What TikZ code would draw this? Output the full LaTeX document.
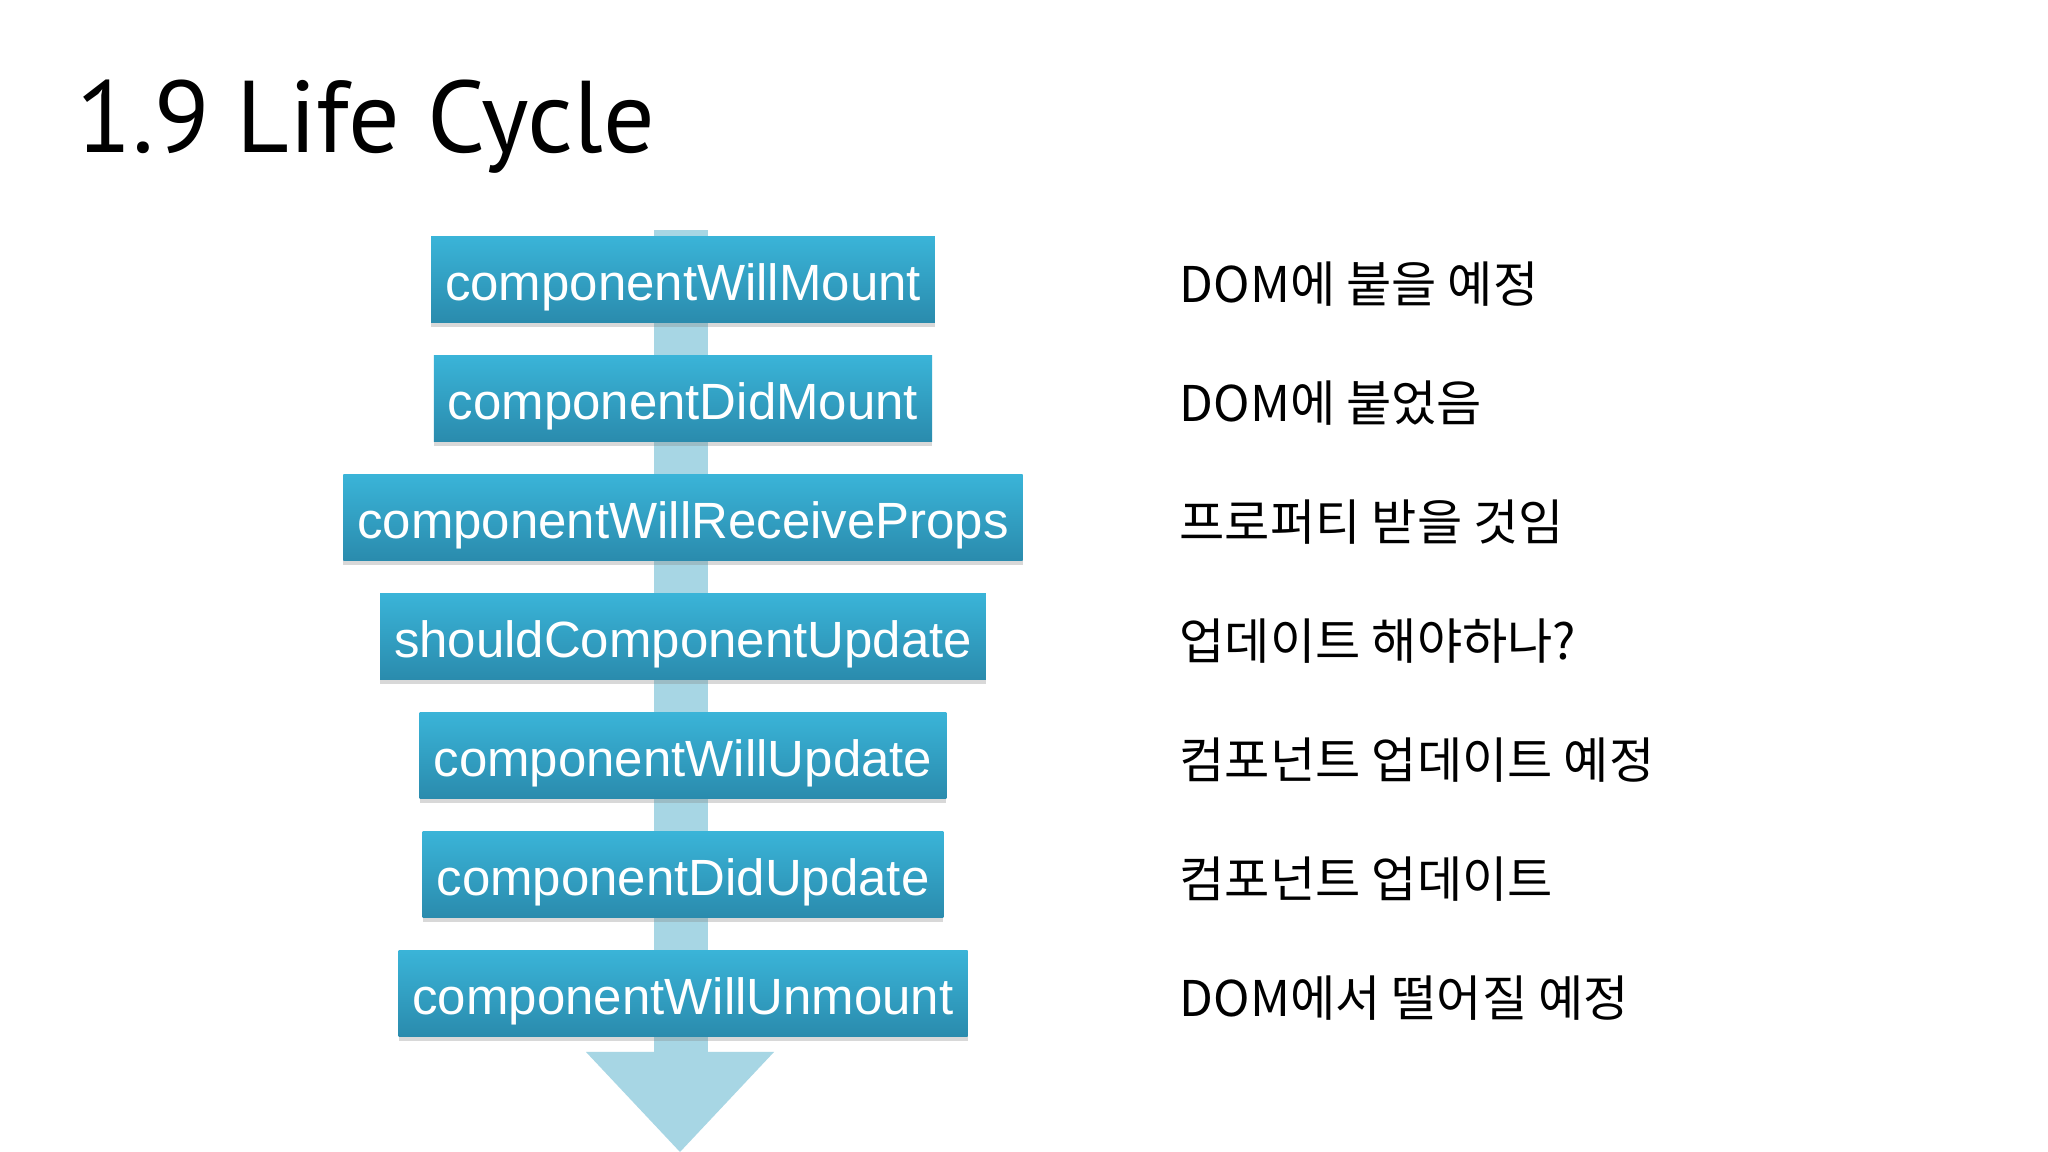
\documentclass[tikz,border=0pt]{standalone}
\usepackage{fontspec}
\setmainfont{Liberation Sans}
\newfontfamily\titlefont{PT Sans}
\newfontfamily\krfont{Noto Sans CJK KR}
\usetikzlibrary{shadows}

\definecolor{flowblue}{HTML}{A7D6E4}
\definecolor{boxtop}{HTML}{3AB4D8}
\definecolor{boxbottom}{HTML}{2A8BAD}

\tikzset{
  hook/.style={top color=boxtop, bottom color=boxbottom, text=white,
    minimum height=0.86cm, inner xsep=0.14cm, inner ysep=0pt,
    text height=0.42cm, text depth=0pt,
    font=\fontsize{14.5}{17}\selectfont,
    drop shadow={shadow xshift=0pt, shadow yshift=-0.05cm, opacity=0.3}},
  note/.style={anchor=base west, inner sep=0pt, font=\krfont\fontsize{14}{17}\selectfont}
}

\begin{document}
\begin{tikzpicture}
\def\cx{6.83}
\def\top{8.725}
\def\gap{1.19}

\useasboundingbox [fill=white] (0,0) rectangle (20.48,11.52);

% title
\node [anchor=base west, inner sep=0pt, font=\titlefont\fontsize{29}{35}\selectfont] (title) at (0.76,9.99) {1.9 Life Cycle};

% big arrow behind the boxes
\fill [flowblue] (6.54,9.22) rectangle (7.08,1.0);
\fill [flowblue] (5.86,1.0) -- (7.74,1.0) -- (6.80,0) -- cycle;

% lifecycle methods and what they mean
\foreach \name/\note [count=\k] in {
    componentWillMount/DOM에 붙을 예정,
    componentDidMount/DOM에 붙었음,
    componentWillReceiveProps/프로퍼티 받을 것임,
    shouldComponentUpdate/업데이트 해야하나?,
    componentWillUpdate/컴포넌트 업데이트 예정,
    componentDidUpdate/컴포넌트 업데이트,
    componentWillUnmount/DOM에서 떨어질 예정} {
    \node [hook] (m\k) at (\cx, {\top-\gap*(\k-1)}) {\name};
    \node [note] (n\k) at (11.79, {\top-\gap*(\k-1)-0.235}) {\note};
}

\end{tikzpicture}
\end{document}
